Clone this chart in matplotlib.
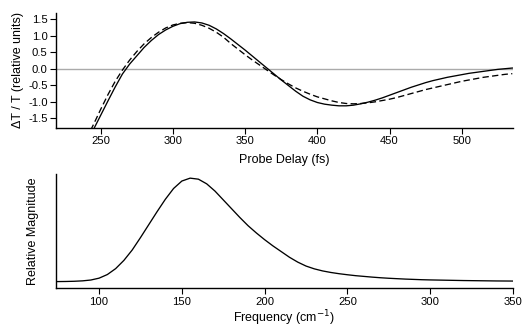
import matplotlib
matplotlib.use("Agg")
import matplotlib.pyplot as plt
import numpy as np

plt.rcParams['font.family'] = ['Liberation Sans', 'DejaVu Sans']

# probe delay (fs) and the two transient traces
delay = np.arange(240, 540, 5)
solid = [-2.25, -1.83, -1.40, -0.97, -0.55, -0.16, 0.14, 0.39, 0.64, 0.85,
         1.03, 1.17, 1.28, 1.36, 1.40, 1.41, 1.38, 1.31, 1.20, 1.06,
         0.90, 0.73, 0.56, 0.38, 0.20, 0.02, -0.16, -0.34, -0.51, -0.68,
         -0.83, -0.94, -1.02, -1.07, -1.10, -1.12, -1.12, -1.10, -1.06, -1.01,
         -0.95, -0.88, -0.80, -0.72, -0.64, -0.56, -0.49, -0.42, -0.36, -0.31,
         -0.26, -0.22, -0.18, -0.14, -0.11, -0.08, -0.05, -0.02, 0.00, 0.02]
dashed = [-2.12, -1.68, -1.22, -0.78, -0.38, -0.04, 0.26, 0.52, 0.75, 0.94,
          1.10, 1.23, 1.32, 1.37, 1.39, 1.37, 1.31, 1.22, 1.10, 0.95,
          0.76, 0.59, 0.42, 0.26, 0.11, -0.04, -0.19, -0.33, -0.46, -0.58,
          -0.68, -0.77, -0.85, -0.91, -0.97, -1.02, -1.05, -1.06, -1.05, -1.03,
          -1.00, -0.96, -0.92, -0.87, -0.81, -0.75, -0.69, -0.63, -0.58, -0.53,
          -0.48, -0.43, -0.38, -0.34, -0.30, -0.26, -0.23, -0.20, -0.17, -0.15]

# frequency (cm-1) and spectral magnitude
freq = np.arange(75, 355, 5)
mag = [0.000, 0.001, 0.003, 0.007, 0.015, 0.033, 0.068, 0.125, 0.205, 0.305,
       0.425, 0.55, 0.675, 0.795, 0.90, 0.972, 1.00, 0.99, 0.945, 0.875,
       0.79, 0.705, 0.62, 0.54, 0.47, 0.405, 0.345, 0.29, 0.235, 0.188,
       0.150, 0.123, 0.103, 0.088, 0.076, 0.066, 0.057, 0.05, 0.043, 0.037,
       0.032, 0.028, 0.024, 0.021, 0.018, 0.016, 0.0145, 0.013, 0.0115, 0.010,
       0.009, 0.008, 0.007, 0.006, 0.0055, 0.005]

fig = plt.figure(figsize=(5.22, 3.31), dpi=100)
ax1 = fig.add_axes([0.1073, 0.6142, 0.8755, 0.3465])
ax2 = fig.add_axes([0.1073, 0.129, 0.8755, 0.3453])

for ax in (ax1, ax2):
    ax.spines['top'].set_visible(False)
    ax.spines['right'].set_visible(False)
    ax.spines['left'].set_linewidth(1.0)
    ax.spines['bottom'].set_linewidth(1.0)
    ax.tick_params(direction='out', length=4, width=0.8, labelsize=8.1, pad=2)

ax1.axhline(0, color='#aaaaaa', lw=1.0, zorder=1)
ax1.plot(delay, solid, color='black', lw=0.95)
ax1.plot(delay, dashed, color='black', lw=0.95, dashes=(4.8, 2.5))
ax1.set_xlim(219, 535.5)
ax1.set_ylim(-1.78, 1.68)
ax1.set_xticks([250, 300, 350, 400, 450, 500])
ax1.set_yticks([-1.5, -1.0, -0.5, 0.0, 0.5, 1.0, 1.5])
ax1.yaxis.set_major_formatter(matplotlib.ticker.FormatStrFormatter('%.1f'))
ax1.set_xlabel('Probe Delay (fs)', fontsize=9, labelpad=6)
ax1.set_ylabel('\u0394T / T (relative units)', fontsize=9, labelpad=3)

ax2.plot(freq, mag, color='black', lw=0.95)
ax2.set_xlim(74, 350)
ax2.set_ylim(-0.065, 1.04)
ax2.set_xticks([100, 150, 200, 250, 300, 350])
ax2.set_yticks([])
ax2.set_xlabel('Frequency (cm$^{-1}$)', fontsize=9, labelpad=1)
ax2.set_ylabel('Relative Magnitude', fontsize=9, labelpad=12)

fig.savefig('out.png', dpi=100)
